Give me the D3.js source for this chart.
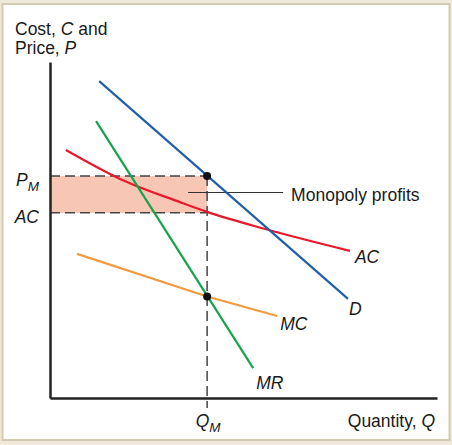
<!DOCTYPE html>
<html>
<head>
<meta charset="utf-8">
<script src="https://cdn.jsdelivr.net/npm/d3@7"></script>
<style>
  html, body { margin: 0; padding: 0; background: #efe9da; }
  svg { display: block; }
  text { font-family: "Liberation Sans", Arial, sans-serif; fill: #1a1a1a; }
</style>
</head>
<body>
<svg id="chart"></svg>
<script>
// curve points, [quantity, price] on a 0-100 scale
const demand = [[12.7, 94.3], [77.0, 29.5]];
const marginalRevenue = [[11.9, 82.4], [52.5, 8.9]];
const averageCost = [[4.1, 73.8], [18.1, 65.2], [33.6, 58.3], [40.6, 55.4], [55.6, 50.3], [77.5, 43.8]];
const marginalCost = [[7.0, 42.9], [40.6, 30.2], [58.7, 24.4]];
const monopoly = { q: 40.6, p: 66.1, ac: 55.1 };

const width = 452;
const height = 445;
const fs = 17.5;

const svg = d3.select('#chart')
  .attr('width', width)
  .attr('height', height);

// panel frame
svg.append('rect')
  .attr('x', 2.5).attr('y', 4)
  .attr('width', 447).attr('height', 436)
  .attr('fill', '#fff')
  .attr('stroke', '#d4cab3')
  .attr('stroke-width', 2);

const x = d3.scaleLinear().domain([0, 100]).range([50, 437]);
const y = d3.scaleLinear().domain([0, 100]).range([398, 62]);

const line = d3.line().x(d => x(d[0])).y(d => y(d[1]));
const curve = d3.line().x(d => x(d[0])).y(d => y(d[1])).curve(d3.curveMonotoneX);

// profit rectangle
svg.append('rect')
  .attr('x', x(0) + 1)
  .attr('y', y(monopoly.p))
  .attr('width', x(monopoly.q) - x(0) - 1)
  .attr('height', y(monopoly.ac) - y(monopoly.p))
  .attr('fill', '#f8c6b5');

// dashed guides
const dash = svg.append('g')
  .attr('stroke', '#444')
  .attr('stroke-width', 1.5)
  .attr('stroke-dasharray', '10,5')
  .attr('fill', 'none');

dash.append('line')
  .attr('x1', x(0)).attr('x2', x(monopoly.q))
  .attr('y1', y(monopoly.p)).attr('y2', y(monopoly.p));
dash.append('line')
  .attr('x1', x(0)).attr('x2', x(monopoly.q))
  .attr('y1', y(monopoly.ac)).attr('y2', y(monopoly.ac));
dash.append('line')
  .attr('x1', x(monopoly.q)).attr('x2', x(monopoly.q))
  .attr('y1', y(monopoly.p)).attr('y2', y(0) + 10);

// leader for the label
svg.append('line')
  .attr('x1', x(monopoly.q) - 19).attr('x2', x(monopoly.q) + 76)
  .attr('y1', 192.5).attr('y2', 192.5)
  .attr('stroke', '#333')
  .attr('stroke-width', 1);

svg.append('text')
  .attr('x', x(monopoly.q) + 84)
  .attr('y', 201)
  .attr('font-size', fs)
  .text('Monopoly profits');

// curves
const curves = [
  { data: averageCost, color: '#e8192c', gen: curve, label: 'AC', dx: 5, dy: 12 },
  { data: marginalCost, color: '#f39a3e', gen: line, label: 'MC', dx: 3, dy: 14 },
  { data: marginalRevenue, color: '#16a34a', gen: line, label: 'MR', dx: 3, dy: 21 },
  { data: demand, color: '#1f5fa9', gen: line, label: 'D', dx: 1, dy: 16 }
];

curves.forEach(c => {
  svg.append('path')
    .attr('d', c.gen(c.data))
    .attr('fill', 'none')
    .attr('stroke', c.color)
    .attr('stroke-width', 2.2);
  const end = c.data[c.data.length - 1];
  svg.append('text')
    .attr('x', x(end[0]) + c.dx)
    .attr('y', y(end[1]) + c.dy)
    .attr('font-size', fs)
    .attr('font-style', 'italic')
    .text(c.label);
});

// axes
svg.append('g')
  .attr('transform', `translate(0,${y(0)})`)
  .call(d3.axisBottom(x).tickValues([]).tickSizeOuter(0))
  .call(g => g.select('.domain').attr('stroke', '#222').attr('stroke-width', 2.5));

svg.append('g')
  .attr('transform', `translate(${x(0)},0)`)
  .call(d3.axisLeft(y).tickValues([]).tickSizeOuter(0))
  .call(g => g.select('.domain').attr('stroke', '#222').attr('stroke-width', 2.5));

// equilibrium dots
svg.selectAll('circle.pt')
  .data([[monopoly.q, monopoly.p], marginalCost[1]])
  .join('circle')
  .attr('class', 'pt')
  .attr('cx', d => x(d[0]))
  .attr('cy', d => y(d[1]))
  .attr('r', 4)
  .attr('fill', '#111');

// axis titles
const yt = svg.append('text').attr('x', 15).attr('y', 35).attr('font-size', fs);
yt.append('tspan').text('Cost, ');
yt.append('tspan').attr('font-style', 'italic').text('C');
yt.append('tspan').text(' and');
const yt2 = svg.append('text').attr('x', 15).attr('y', 54).attr('font-size', fs);
yt2.append('tspan').text('Price, ');
yt2.append('tspan').attr('font-style', 'italic').text('P');

const xt = svg.append('text')
  .attr('x', x(100) - 2).attr('y', 427)
  .attr('text-anchor', 'end')
  .attr('font-size', fs);
xt.append('tspan').text('Quantity, ');
xt.append('tspan').attr('font-style', 'italic').text('Q');

// subscripted labels
const subLabel = (px, py, main, sub, anchor) => {
  const t = svg.append('text')
    .attr('x', px).attr('y', py)
    .attr('text-anchor', anchor)
    .attr('font-size', fs)
    .attr('font-style', 'italic');
  t.append('tspan').text(main);
  if (sub) t.append('tspan').attr('dy', 5).attr('font-size', 13.5).text(sub);
};

subLabel(39, y(monopoly.p) + 10, 'P', 'M', 'end');
subLabel(39, y(monopoly.ac) + 10, 'AC', null, 'end');
subLabel(x(monopoly.q) + 1, 427, 'Q', 'M', 'middle');
</script>
</body>
</html>
